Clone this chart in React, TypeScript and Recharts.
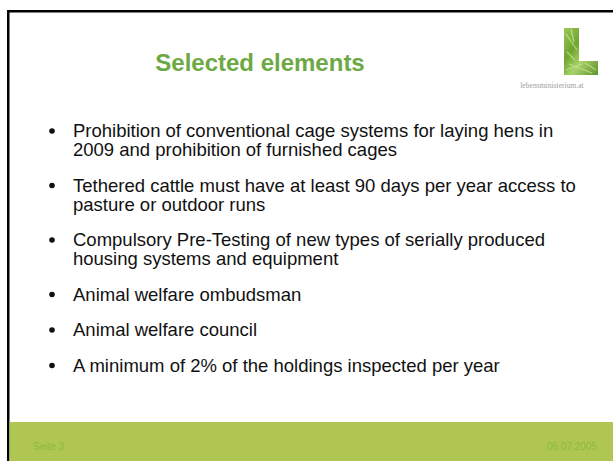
import { ScatterChart, Scatter, XAxis, YAxis, Customized } from 'recharts'

const slideTitle = 'Selected elements'
const footerLeft = 'Seite 3'
const footerRight = '06.07.2005'
const logoCaption = 'lebensministerium.at'

// each bullet, split into the lines as they wrap on the slide
const bulletLines: string[][] = [
  ['Prohibition of conventional cage systems for laying hens in', '2009 and prohibition of furnished cages'],
  ['Tethered cattle must have at least 90 days per year access to', 'pasture or outdoor runs'],
  ['Compulsory Pre-Testing of new types of serially produced', 'housing systems and equipment'],
  ['Animal welfare ombudsman'],
  ['Animal welfare council'],
  ['A minimum of 2% of the holdings inspected per year'],
]

const W = 613
const H = 461
const LINE = 19 // px per line slot
const PARA_GAP = 16.5 / 19 // extra space after each bullet, in line slots
const SLOTS = 16
const TOP = 137
const FONT = '"Liberation Sans", Arial, Helvetica, sans-serif'
const GREEN = '#afc752'

// vertical slot for each bullet = lines used by the bullets above it
const bulletData = (() => {
  let slot = 0
  return bulletLines.map((lines) => {
    const row = { x: 0, slot, lines }
    slot += lines.length + PARA_GAP
    return row
  })
})()

function BulletShape(props: any) {
  const { cx, cy, payload } = props
  return (
    <g>
      <circle cx={cx} cy={cy - 6} r={2.8} fill="#111" />
      {payload.lines.map((t: string, i: number) => (
        <text key={i} x={cx + 21} y={cy + i * LINE} fontSize={18.5} fontFamily={FONT} fill="#111">
          {t}
        </text>
      ))}
    </g>
  )
}

function SlideFrame() {
  return (
    <g>
      <defs>
        <linearGradient id="leaf" x1="0" y1="0" x2="1" y2="1">
          <stop offset="0%" stopColor="#9cc85a" />
          <stop offset="35%" stopColor="#6fa52f" />
          <stop offset="60%" stopColor="#a8d26a" />
          <stop offset="100%" stopColor="#5f9326" />
        </linearGradient>
      </defs>
      {/* slide edge */}
      <rect x={7} y={10} width={W - 7} height={2.5} fill="#000" />
      <rect x={7} y={10} width={2.5} height={H - 10} fill="#000" />
      {/* footer band */}
      <rect x={9.5} y={422} width={W - 9.5} height={H - 422} fill={GREEN} />
      <text x={33} y={450} fontSize={10} fontFamily={FONT} fill="#8db843">{footerLeft}</text>
      <text x={597} y={450} fontSize={10} fontFamily={FONT} fill="#8db843" textAnchor="end">{footerRight}</text>
      {/* title */}
      <text x={260} y={71} fontSize={24} fontWeight="bold" fontFamily={FONT} fill="#6ca843" textAnchor="middle">
        {slideTitle}
      </text>
      {/* logo */}
      <path d="M564,28 L579,28 L579,61 L598,61 L598,75 L564,75 Z" fill="url(#leaf)" />
      <path
        d="M566,34 L577,50 M567,52 L575,60 M569,64 L592,73 M566,70 L582,64 M571,29 L574,42 M585,63 L596,70"
        stroke="#d4eaa4"
        strokeWidth={1.3}
        opacity={0.65}
      />
      <text x={552} y={88} fontSize={7.6} fontFamily='"Liberation Serif", serif' fill="#a0a0a0" textAnchor="middle">
        {logoCaption}
      </text>
    </g>
  )
}

export default function App() {
  return (
    <div style={{ position: 'absolute', left: 0, top: 0, width: W, height: H, background: '#fff' }}>
      <ScatterChart
        width={W}
        height={H}
        margin={{ top: TOP, right: 20, bottom: H - TOP - SLOTS * LINE, left: 52 }}
        style={{ outline: 'none' }}
      >
        <Customized component={SlideFrame} />
        <XAxis type="number" dataKey="x" domain={[0, 1]} hide />
        <YAxis type="number" dataKey="slot" domain={[0, SLOTS]} reversed hide />
        <Scatter data={bulletData} shape={BulletShape} isAnimationActive={false} />
      </ScatterChart>
    </div>
  )
}
